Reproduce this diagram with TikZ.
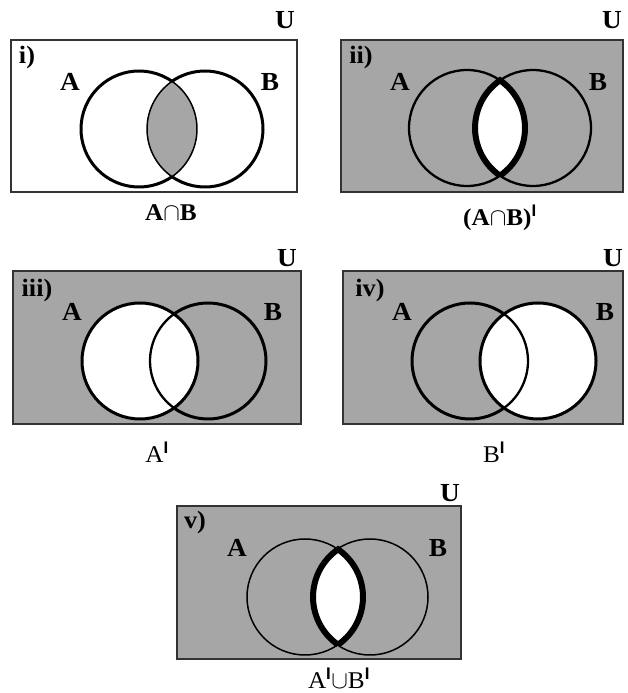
\documentclass[tikz,border=0pt]{standalone}
\usepackage{fontspec}
\setmainfont{Liberation Serif}
\newfontfamily\lblfont[FakeStretch=1.05]{Liberation Serif}
\newfontfamily\barfont{Liberation Sans}
\usetikzlibrary{calc}
\newcommand{\pbar}{\textsuperscript{\barfont\bfseries I}}
\begin{document}
\begin{tikzpicture}[x=1pt,y=1pt,
  shade/.style={fill=black!35},
  frame/.style={draw=black!80,line width=1.3pt},
  heavy/.style={draw=black,line width=3pt},
  medium/.style={draw=black,line width=2.3pt},
  light/.style={draw=black,line width=1.5pt},
  lensline/.style={draw=black,line width=6pt,line join=miter},
  setlbl/.style={font=\lblfont\bfseries\fontsize{26}{30}\selectfont,inner sep=0pt},
  nolbl/.style={font=\lblfont\bfseries\fontsize{25}{30}\selectfont,inner sep=0pt},
  botb/.style={font=\lblfont\bfseries\fontsize{24}{28}\selectfont,inner sep=0pt},
  botr/.style={font=\lblfont\fontsize{24}{28}\selectfont,inner sep=0pt}]
\useasboundingbox (0,0) rectangle (628,693);
\def\R{58}
\def\al{55.3}
\def\be{124.7}
% ---------- panel i ----------
\coordinate (A1) at (139,564); \coordinate (B1) at (205,564);
\fill[white] (11,501) rectangle (297,653);
\fill[shade] ($(A1)+(-\al:\R)$) arc[start angle=-\al,end angle=\al,radius=\R] arc[start angle=\be,end angle=360-\be,radius=\R] -- cycle;
\draw[light] ($(A1)+(-\al:\R)$) arc[start angle=-\al,end angle=\al,radius=\R] arc[start angle=\be,end angle=360-\be,radius=\R];
\draw[heavy] ($(A1)+(\al:\R)$) arc[start angle=\al,end angle=360-\al,radius=\R];
\draw[heavy] ($(B1)+(-\be:\R)$) arc[start angle=-\be,end angle=\be,radius=\R];
\draw[frame] (11,501) rectangle (297,653);
\node[nolbl] (n1) at (27,636) {i)};
\node[setlbl] (a1) at (70,611) {A};
\node[setlbl] (b1) at (270,611) {B};
\node[setlbl] (u1) at (285,673) {U};
\node[botb] (l1) at (171,480) {A$\cap$B};
% ---------- panel ii ----------
\coordinate (A2) at (467,565); \coordinate (B2) at (533,565);
\fill[shade] (341,501) rectangle (623,653);
\fill[white] ($(A2)+(-\al:\R)$) arc[start angle=-\al,end angle=\al,radius=\R] arc[start angle=\be,end angle=360-\be,radius=\R] -- cycle;
\draw[medium] (A2) circle[radius=\R];
\draw[medium] (B2) circle[radius=\R];
\draw[lensline] ($(A2)+(-\al:\R)$) arc[start angle=-\al,end angle=\al,radius=\R] arc[start angle=\be,end angle=360-\be,radius=\R];
\draw[frame] (341,501) rectangle (623,653);
\node[nolbl] (n2) at (361,636) {ii)};
\node[setlbl] (a2) at (400,611) {A};
\node[setlbl] (b2) at (598,611) {B};
\node[setlbl] (u2) at (612,673) {U};
\node[botb] (l2) at (500,475) {(A$\cap$B)\pbar};
% ---------- panel iii ----------
\coordinate (A3) at (140,332); \coordinate (B3) at (208,332);
\fill[shade] (13,269) rectangle (301,422);
\fill[white] (A3) circle[radius=\R];
\draw[heavy] (A3) circle[radius=\R];
\draw[heavy] ($(B3)+(-\be:\R)$) arc[start angle=-\be,end angle=\be,radius=\R];
\draw[medium] ($(B3)+(\be:\R)$) arc[start angle=\be,end angle=360-\be,radius=\R];
\draw[frame] (13,269) rectangle (301,422);
\node[nolbl] (n3) at (37,403) {iii)};
\node[setlbl] (a3) at (72,381) {A};
\node[setlbl] (b3) at (273,381) {B};
\node[setlbl] (u3) at (287,435) {U};
\node[botr] (l3) at (157,241) {A\pbar};
% ---------- panel iv ----------
\coordinate (A4) at (470,332); \coordinate (B4) at (538,332);
\fill[shade] (343,269) rectangle (623,422);
\fill[white] (B4) circle[radius=\R];
\draw[heavy] (B4) circle[radius=\R];
\draw[heavy] ($(A4)+(\al:\R)$) arc[start angle=\al,end angle=360-\al,radius=\R];
\draw[medium] ($(A4)+(-\al:\R)$) arc[start angle=-\al,end angle=\al,radius=\R];
\draw[frame] (343,269) rectangle (623,422);
\node[nolbl] (n4) at (370,403) {iv)};
\node[setlbl] (a4) at (402,381) {A};
\node[setlbl] (b4) at (605,381) {B};
\node[setlbl] (u4) at (613,435) {U};
\node[botr] (l4) at (494,241) {B\pbar};
% ---------- panel v ----------
\coordinate (A5) at (305,96); \coordinate (B5) at (370,96);
\fill[shade] (177,34) rectangle (461,187);
\fill[white] ($(A5)+(-\al:\R)$) arc[start angle=-\al,end angle=\al,radius=\R] arc[start angle=\be,end angle=360-\be,radius=\R] -- cycle;
\draw[light] (A5) circle[radius=\R];
\draw[light] (B5) circle[radius=\R];
\draw[lensline] ($(A5)+(-\al:\R)$) arc[start angle=-\al,end angle=\al,radius=\R] arc[start angle=\be,end angle=360-\be,radius=\R];
\draw[frame] (177,34) rectangle (461,187);
\node[nolbl] (n5) at (195,171) {v)};
\node[setlbl] (a5) at (237,145) {A};
\node[setlbl] (b5) at (438,145) {B};
\node[setlbl] (u5) at (450,200) {U};
\node[botr] (l5) at (339,15) {A\pbar$\cup$B\pbar};
\end{tikzpicture}
\end{document}
